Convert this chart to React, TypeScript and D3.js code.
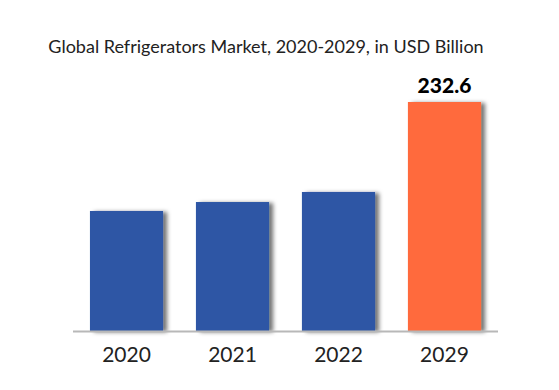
import React, { useEffect, useRef } from 'react';
import * as d3 from 'd3';

const years = ['2020', '2021', '2022', '2029'];
const values = [121.9, 131.0, 141.2, 232.6];
const labelYears = ['2029'];

const App: React.FC = () => {
  const svgRef = useRef<SVGSVGElement>(null);
  const width = 559;
  const height = 390;

  useEffect(() => {
    if (!svgRef.current) return;
    const svg = d3.select(svgRef.current);
    svg.selectAll('*').remove();

    const baseline = 331;

    // shadow to the right of each bar
    const defs = svg.append('defs');
    const filter = defs.append('filter')
      .attr('id', 'barShadow')
      .attr('x', '-10%').attr('y', '-10%')
      .attr('width', '130%').attr('height', '120%');
    filter.append('feDropShadow')
      .attr('dx', 4).attr('dy', 1)
      .attr('stdDeviation', 2)
      .attr('flood-color', '#000')
      .attr('flood-opacity', 0.55);

    const x = d3.scaleBand<string>()
      .domain(years)
      .range([73, 498])
      .paddingInner(0.31)
      .paddingOuter(0.16);

    const y = d3.scaleLinear()
      .domain([0, 232.6])
      .range([baseline, 102]);

    // title
    svg.append('text')
      .attr('x', 266)
      .attr('y', 53)
      .attr('text-anchor', 'middle')
      .style('font-family', 'Lato, sans-serif')
      .style('font-size', '18px')
      .style('fill', '#222')
      .text('Global Refrigerators Market, 2020-2029, in USD Billion');

    // bars
    svg.append('g')
      .selectAll('rect')
      .data(years)
      .join('rect')
      .attr('x', d => x(d)!)
      .attr('y', (d, i) => y(values[i]))
      .attr('width', x.bandwidth())
      .attr('height', (d, i) => baseline - y(values[i]))
      .attr('fill', d => (d === '2029' ? '#FF6B3D' : '#2D57A5'))
      .attr('filter', 'url(#barShadow)');

    // axis line
    svg.append('line')
      .attr('x1', 73).attr('x2', 498)
      .attr('y1', baseline + 0.5).attr('y2', baseline + 0.5)
      .style('stroke', '#b8b8b8')
      .style('stroke-width', 2);

    // year labels
    svg.append('g')
      .selectAll('text')
      .data(years)
      .join('text')
      .attr('x', d => x(d)! + x.bandwidth() / 2)
      .attr('y', 362)
      .attr('text-anchor', 'middle')
      .style('font-family', 'Lato, sans-serif')
      .style('font-size', '21px')
      .style('fill', '#222')
      .text(d => d);

    // value label
    svg.append('g')
      .selectAll('text')
      .data(labelYears)
      .join('text')
      .attr('x', d => x(d)! + x.bandwidth() / 2)
      .attr('y', 93)
      .attr('text-anchor', 'middle')
      .style('font-family', 'Lato, sans-serif')
      .style('font-size', '21px')
      .style('font-weight', 900)
      .style('fill', '#000')
      .text(d => values[years.indexOf(d)].toFixed(1));
  }, []);

  return (
    <svg
      ref={svgRef}
      width={width}
      height={height}
      style={{ position: 'absolute', left: 0, top: 0, background: '#fff' }}
    />
  );
};

export default App;
